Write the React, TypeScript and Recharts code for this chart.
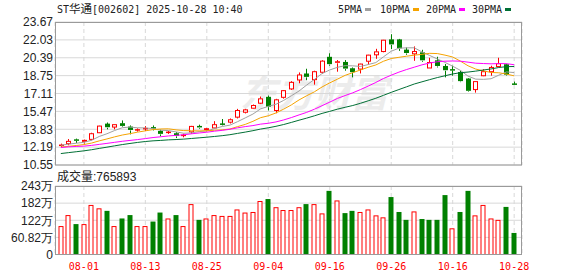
import React from "react"
import { ComposedChart, Bar, Line, XAxis, YAxis, CartesianGrid } from "recharts"

const dates = [
  "07-29", "07-30", "07-31", "08-01", "08-04", "08-05", "08-06", "08-07", "08-08", "08-11",
  "08-12", "08-13", "08-14", "08-15", "08-18", "08-19", "08-20", "08-21", "08-22", "08-25",
  "08-26", "08-27", "08-28", "08-29", "09-01", "09-02", "09-03", "09-04", "09-05", "09-08",
  "09-09", "09-10", "09-11", "09-12", "09-15", "09-16", "09-17", "09-18", "09-19", "09-22",
  "09-23", "09-24", "09-25", "09-26", "09-29", "09-30", "10-09", "10-10", "10-13", "10-14",
  "10-15", "10-16", "10-17", "10-20", "10-21", "10-22", "10-23", "10-24", "10-27", "10-28",
]

const opens = [
  12.33, 12.51, 12.86, 12.63, 12.9, 13.51, 14.3, 14.03, 14.34, 14.03,
  13.74, 13.86, 13.98, 13.63, 13.51, 13.42, 13.22, 13.59, 14.09, 13.72,
  13.95, 14.32, 14.48, 14.94, 15.39, 15.76, 16.22, 16.76, 15.55, 16.76,
  17.53, 18.35, 18.9, 18.38, 19.06, 20.43, 19.88, 19.96, 19.38, 19.35,
  20.07, 20.66, 20.96, 22.03, 22.03, 21.09, 20.75, 20.84, 19.45, 20.11,
  19.59, 19.3, 19.04, 18.44, 17.47, 18.74, 19.11, 19.59, 19.75, 17.99,
]
const highs = [
  12.51, 12.93, 12.97, 12.88, 13.51, 14.15, 14.45, 14.27, 14.64, 14.18,
  13.91, 14.12, 14.18, 13.79, 13.68, 13.57, 13.42, 14.14, 14.25, 13.95,
  14.57, 14.77, 14.82, 15.7, 15.7, 16.1, 16.83, 16.92, 16.62, 17.42,
  18.24, 19.04, 19.38, 19.2, 20.16, 20.8, 20.18, 20.18, 19.5, 19.84,
  20.66, 21.21, 22.03, 22.55, 22.12, 21.33, 21.43, 21.12, 20.39, 20.48,
  19.81, 19.66, 19.2, 18.51, 18.2, 19.34, 19.66, 20.39, 19.84, 18.2,
]
const lows = [
  12.2, 12.36, 12.57, 12.51, 12.81, 13.48, 13.82, 13.82, 14.03, 13.36,
  13.61, 13.66, 13.72, 13.18, 13.4, 13.02, 13.09, 13.42, 13.88, 13.63,
  13.91, 14.18, 14.36, 14.82, 15.28, 15.73, 16.14, 15.55, 15.3, 16.64,
  17.44, 18.05, 18.33, 17.92, 18.93, 19.66, 19.11, 19.2, 18.59, 18.95,
  19.75, 20.29, 20.89, 21.18, 21.02, 20.66, 20.11, 20.02, 19.45, 19.5,
  18.59, 18.74, 18.15, 17.26, 17.19, 18.7, 18.74, 19.59, 18.74, 17.89,
]
const closes = [
  12.38, 12.72, 12.77, 12.81, 13.42, 14.12, 13.97, 14.25, 14.09, 13.72,
  13.79, 13.91, 13.91, 13.36, 13.57, 13.18, 13.29, 14.09, 13.95, 13.88,
  14.25, 14.25, 14.7, 15.55, 15.61, 16.01, 16.62, 15.85, 16.53, 17.37,
  18.13, 18.81, 18.59, 19.11, 20.08, 19.76, 20.02, 19.35, 19.02, 19.81,
  20.63, 20.93, 22.0, 21.57, 21.21, 20.78, 20.96, 20.11, 19.95, 19.59,
  19.2, 19.22, 18.2, 17.31, 18.2, 19.11, 19.5, 19.84, 18.79, 17.92,
]

// closes before the first visible day, only used for the moving averages
const priorCloses = [
  10.2, 10.3, 10.3, 10.4, 10.5, 10.5, 10.6, 10.6, 10.7, 10.9,
  11.44, 12.01, 12.2, 12.1, 12.25, 12.15, 12.3, 12.2, 12.1, 12.25,
  12.1, 12.0, 11.95, 12.05, 12.1, 12.2, 12.35, 12.4, 12.47,
]

// volume in 万
const volumes = [
  101, 140, 108, 108, 176, 164, 155, 101, 128, 140,
  101, 101, 117, 149, 128, 140, 101, 179, 123, 128,
  140, 137, 137, 160, 149, 151, 190, 197, 168, 158,
  158, 168, 179, 179, 146, 226, 192, 147, 155, 151,
  160, 139, 132, 204, 151, 123, 153, 126, 123, 123,
  211, 93, 151, 226, 139, 176, 128, 123, 169, 76.5893,
]
// 1 = up day (red), 0 = down day (green)
const volUp = [
  1, 1, 0, 1, 1, 1, 0, 1, 0, 0,
  1, 1, 0, 0, 1, 0, 1, 1, 0, 1,
  1, 1, 1, 1, 1, 1, 1, 0, 1, 1,
  1, 1, 0, 1, 1, 0, 1, 0, 0, 1,
  1, 1, 1, 0, 0, 0, 1, 0, 0, 0,
  0, 1, 0, 0, 1, 1, 1, 1, 0, 0,
]

const priceTicks = [10.55, 12.19, 13.83, 15.47, 17.11, 18.75, 20.39, 22.03, 23.67]
const volTicks = [0, 60.82, 121.64, 182.46, 243.28]
const volTickLabels = ["0", "60.82万", "122万", "182万", "243万"]
const dateTicks = ["08-01", "08-13", "08-25", "09-04", "09-16", "09-26", "10-16", "10-28"]

const maPeriods = [5, 10, 20, 30]
const maColors = ["#a0a0a0", "#f5a300", "#ff00ff", "#006f35"]

const RED = "#ff0000"
const GREEN = "#008000"
const GRID = "#d8d8d8"
const BORDER = "#9a9a9a"

const allCloses = [...priorCloses, ...closes]
const ma = (n: number, i: number) => {
  const end = priorCloses.length + i
  let s = 0
  for (let k = end - n + 1; k <= end; k++) s += allCloses[k]
  return s / n
}

const rows = dates.map((date, i) => {
  const row: any = {
    date,
    open: opens[i],
    high: highs[i],
    low: lows[i],
    close: closes[i],
    vol: volumes[i],
    up: volUp[i] === 1,
  }
  maPeriods.forEach((n) => {
    row["ma" + n] = ma(n, i)
  })
  return row
})

const Candle = (props: any) => {
  const { x, y, width, height, payload } = props
  const { open, close, high, low } = payload
  const top = Math.min(y, y + height)
  const h = Math.abs(height)
  const span = high - low
  const py = (v: number) => (span > 0 ? top + ((high - v) / span) * h : top)
  const cx = Math.round(x + width / 2) + 0.5
  const bTop = py(Math.max(open, close))
  const bBot = py(Math.min(open, close))
  const up = close >= open
  const color = up ? RED : GREEN
  const bh = bBot - bTop
  return (
    <g>
      <line x1={cx} x2={cx} y1={py(high)} y2={bTop} stroke={color} />
      <line x1={cx} x2={cx} y1={bBot} y2={py(low)} stroke={color} />
      {up && bh >= 2 ? (
        <rect x={cx - 2} y={bTop} width={4} height={bh} fill="#fff" stroke={color} />
      ) : (
        <rect x={cx - 2.5} y={bTop - 0.5} width={5} height={Math.max(bh, 1.5)} fill={color} />
      )}
    </g>
  )
}

const VolBar = (props: any) => {
  const { x, y, width, height, payload } = props
  const cx = Math.round(x + width / 2)
  if (payload.up) {
    return (
      <rect x={cx - 2} y={y + 0.5} width={4} height={height - 0.5} fill="#fff" stroke={RED} />
    )
  }
  return <rect x={cx - 2.5} y={y} width={5} height={height} fill={GREEN} />
}

const axisFont = { fontSize: 12, fontFamily: "'Liberation Sans', Arial, sans-serif", fill: "#222" }
const monoFont = "'DejaVu Sans Mono', monospace"
const cjkFont = "'Noto Sans CJK SC', sans-serif"

const legendItems = [
  { label: "5PMA", x: 338, sq: 365 },
  { label: "10PMA", x: 380, sq: 413 },
  { label: "20PMA", x: 426, sq: 459 },
  { label: "30PMA", x: 472, sq: 505 },
]

export default function App() {
  return (
    <div style={{ position: "absolute", left: 0, top: 0, width: 578, height: 276, background: "#fff" }}>
      {/* watermark */}
      <svg width={578} height={276} style={{ position: "absolute", left: 0, top: 0 }}>
        <text
          x={240}
          y={107}
          fontSize={37}
          fontWeight="bold"
          fontStyle="italic"
          fontFamily={cjkFont}
          fill="#ececec"
        >
          东方财富
        </text>
      </svg>

      <div style={{ position: "absolute", left: 0, top: 0 }}>
        <ComposedChart width={578} height={178} data={rows} margin={{ top: 22, right: 56, bottom: 13, left: 0 }}>
          <CartesianGrid vertical={false} stroke={GRID} />
          <CartesianGrid horizontal={false} stroke={GRID} strokeDasharray="4 3" />
          <XAxis dataKey="date" ticks={dateTicks} hide padding={{ left: 2, right: 4 }} />
          <YAxis
            domain={[10.55, 23.67]}
            ticks={priceTicks}
            allowDataOverflow
            width={55}
            axisLine={false}
            tickLine={false}
            tickSize={0}
            tickMargin={2}
            tick={axisFont}
            tickFormatter={(v: number) => v.toFixed(2)}
            interval={0}
          />
          {maPeriods.map((n, i) => (
            <Line
              key={n}
              dataKey={"ma" + n}
              stroke={maColors[i]}
              strokeWidth={1}
              dot={false}
              activeDot={false}
              isAnimationActive={false}
            />
          ))}
          <Bar
            dataKey={(d: any) => [d.low, d.high]}
            barSize={5}
            shape={Candle}
            isAnimationActive={false}
          />
        </ComposedChart>
      </div>

      <div style={{ position: "absolute", left: 0, top: 170 }}>
        <ComposedChart width={578} height={106} data={rows} margin={{ top: 16, right: 56, bottom: 1.5, left: 0 }}>
          <CartesianGrid vertical={false} stroke={GRID} />
          <CartesianGrid horizontal={false} stroke={GRID} strokeDasharray="4 3" />
          <XAxis
            dataKey="date"
            ticks={dateTicks}
            interval={0}
            height={20}
            padding={{ left: 2, right: 4 }}
            axisLine={false}
            tickLine={false}
            tickSize={6}
            tickMargin={2}
            tick={{ fontSize: 10, fontFamily: monoFont, fill: RED }}
          />
          <YAxis
            domain={[0, 243.28]}
            ticks={volTicks}
            allowDataOverflow
            width={55}
            axisLine={false}
            tickLine={false}
            tickSize={0}
            tickMargin={2}
            tick={axisFont}
            tickFormatter={(v: number) => volTickLabels[volTicks.indexOf(v)]}
            interval={0}
          />
          <Bar dataKey="vol" barSize={5} shape={VolBar} isAnimationActive={false} />
        </ComposedChart>
      </div>

      {/* frames, title, legend */}
      <svg width={578} height={276} style={{ position: "absolute", left: 0, top: 0, pointerEvents: "none" }}>
        <rect x={55.5} y={22.5} width={466} height={142.5} fill="none" stroke={BORDER} />
        <rect x={55.5} y={186.5} width={466} height={68} fill="none" stroke={BORDER} />
        <text x={57} y={13} fontSize={10} fontFamily={monoFont} fill="#222">
          ST<tspan fontFamily={cjkFont} fontSize={11.5}>华通</tspan>[002602] 2025-10-28 10:40
        </text>
        {legendItems.map((it, i) => (
          <g key={it.label}>
            <text x={it.x} y={13} fontSize={10} fontFamily={monoFont} fill="#222">
              {it.label}
            </text>
            <rect x={it.sq} y={8} width={6} height={3} fill={maColors[i]} />
          </g>
        ))}
        <text x={57} y={181} fontSize={12} fill="#222">
          <tspan fontFamily={cjkFont}>成交量</tspan>
          <tspan fontFamily="'Liberation Sans', Arial, sans-serif">:765893</tspan>
        </text>
      </svg>
    </div>
  )
}
